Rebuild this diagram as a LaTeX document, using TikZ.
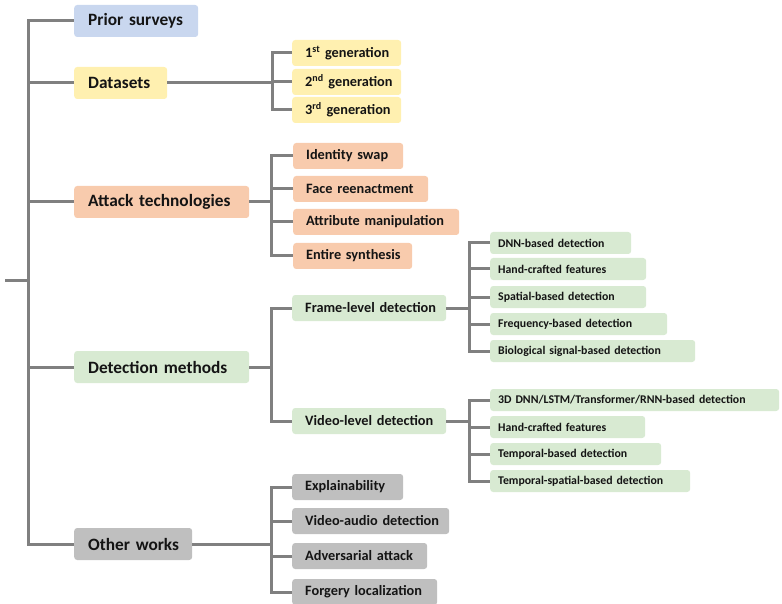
\documentclass[tikz,border=0pt]{standalone}
\usepackage{fontspec}
\setmainfont{Carlito}
\usetikzlibrary{calc}

\definecolor{lineg}{HTML}{808080}
\definecolor{cblue}{HTML}{C9D7EF}
\definecolor{cyellow}{HTML}{FFF0B0}
\definecolor{corange}{HTML}{F8CBAD}
\definecolor{cgreen}{HTML}{D8EAD2}
\definecolor{cgray}{HTML}{BFBFBF}
\definecolor{ink}{HTML}{141414}

\tikzset{
  % a box of fixed width, label kept on one line at its left
  box/.style={anchor=west, rounded corners=3pt, draw=none, text=ink,
              align=left, inner ysep=0pt,
              execute at begin node={\leavevmode\hbox\bgroup},
              execute at end node={\egroup}},
  lvla/.style={box, inner xsep=14pt, minimum height=32pt,
               text width=#1-28pt, font=\bfseries\fontsize{17.3}{20}\selectfont},
  lvlb/.style={box, inner xsep=13pt, minimum height=26pt,
               text width=#1-26pt, font=\bfseries\fontsize{14.3}{17}\selectfont},
  lvlc/.style={box, inner xsep=8pt, minimum height=22pt,
               text width=#1-16pt, font=\bfseries\fontsize{11.8}{14}\selectfont},
  link/.style={draw=lineg, line width=3pt},
}

\begin{document}
\begin{tikzpicture}[x=1pt, y=-1pt]
\useasboundingbox (0,0) rectangle (782,604);

% first level
\node[lvla=124, fill=cblue]   (ps) at (74,21)  {Prior surveys};
\node[lvla=93,  fill=cyellow] (ds) at (74,83)  {Datasets};
\node[lvla=175, fill=corange] (at) at (74,202) {Attack technologies};
\node[lvla=175, fill=cgreen]  (dm) at (74,367) {Detection methods};
\node[lvla=118, fill=cgray]   (ow) at (74,544) {Other works};

% datasets
\node[lvlb=109, fill=cyellow] (g1) at (292,53)  {1\textsuperscript{st} generation};
\node[lvlb=109, fill=cyellow] (g2) at (292,82)  {2\textsuperscript{nd} generation};
\node[lvlb=109, fill=cyellow] (g3) at (292,110) {3\textsuperscript{rd} generation};

% attack technologies
\node[lvlb=110, fill=corange] (a1) at (293,156) {Identity swap};
\node[lvlb=135, fill=corange] (a2) at (293,189) {Face reenactment};
\node[lvlb=166, fill=corange] (a3) at (293,222) {Attribute manipulation};
\node[lvlb=119, fill=corange] (a4) at (293,256) {Entire synthesis};

% detection methods
\node[lvlb=154, fill=cgreen] (fl) at (292,308) {Frame-level detection};
\node[lvlb=154, fill=cgreen] (vl) at (292,421) {Video-level detection};

\node[lvlc=141, fill=cgreen] (f1) at (490,243) {DNN-based detection};
\node[lvlc=156, fill=cgreen] (f2) at (490,269) {Hand-crafted features};
\node[lvlc=156, fill=cgreen] (f3) at (490,297) {Spatial-based detection};
\node[lvlc=177, fill=cgreen] (f4) at (490,324) {Frequency-based detection};
\node[lvlc=205, fill=cgreen] (f5) at (490,351) {Biological signal-based detection};

\node[lvlc=289, fill=cgreen] (v1) at (490,400) {3D DNN/LSTM/Transformer/RNN-based detection};
\node[lvlc=155, fill=cgreen] (v2) at (490,427) {Hand-crafted features};
\node[lvlc=171, fill=cgreen] (v3) at (490,454) {Temporal-based detection};
\node[lvlc=200, fill=cgreen] (v4) at (490,481) {Temporal-spatial-based detection};

% other works
\node[lvlb=111, fill=cgray] (o1) at (292,487) {Explainability};
\node[lvlb=157, fill=cgray] (o2) at (292,521) {Video-audio detection};
\node[lvlb=135, fill=cgray] (o3) at (292,556) {Adversarial attack};
\node[lvlb=145, fill=cgray] (o4) at (292,592) {Forgery localization};

% junction points
\coordinate (stub) at (5,280);
\coordinate (root) at (28,280);
\coordinate (jd) at (272,83);
\coordinate (ja) at (271,202);
\coordinate (jm) at (271,367);
\coordinate (jo) at (271,544);
\coordinate (jf) at (469,308);
\coordinate (jv) at (469,421);

% trunk
\draw[link] (stub) -- (root);
\draw[link] (ow.west) -| (root) |- (ps.west);
\foreach \n in {ds,at,dm} \draw[link] (\n.west) -- (\n.west -| root);

% datasets branch
\draw[link] (ds.east) -- (jd);
\draw[link] (g1.west) -| (jd) |- (g3.west);
\draw[link] (g2.west) -- (g2.west -| jd);

% attack branch
\draw[link] (at.east) -- (ja);
\draw[link] (a1.west) -| (ja) |- (a4.west);
\foreach \n in {a2,a3} \draw[link] (\n.west) -- (\n.west -| ja);

% detection branch
\draw[link] (dm.east) -- (jm);
\draw[link] (fl.west) -| (jm) |- (vl.west);

\draw[link] (fl.east) -- (jf);
\draw[link] (f1.west) -| (jf) |- (f5.west);
\foreach \n in {f2,f3,f4} \draw[link] (\n.west) -- (\n.west -| jf);

\draw[link] (vl.east) -- (jv);
\draw[link] (v1.west) -| (jv) |- (v4.west);
\foreach \n in {v2,v3} \draw[link] (\n.west) -- (\n.west -| jv);

% other works branch
\draw[link] (ow.east) -- (jo);
\draw[link] (o1.west) -| (jo) |- (o4.west);
\foreach \n in {o2,o3} \draw[link] (\n.west) -- (\n.west -| jo);
\end{tikzpicture}
\end{document}
